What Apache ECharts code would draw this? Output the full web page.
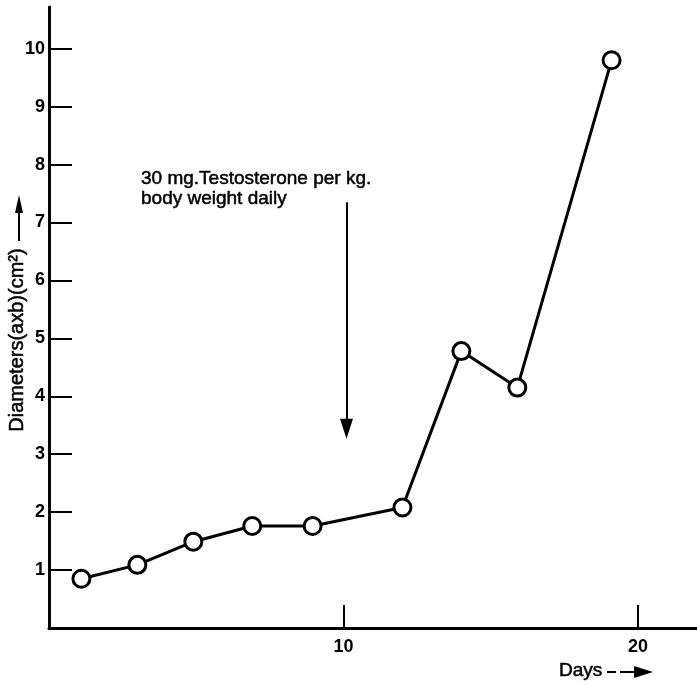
<!DOCTYPE html>
<html>
<head>
<meta charset="utf-8">
<script src="https://cdn.jsdelivr.net/npm/echarts@6/dist/echarts.min.js"></script>
<style>
html, body { margin: 0; padding: 0; background: #fff; }
#chart { width: 697px; height: 685px; }
</style>
</head>
<body>
<div id="chart"></div>
<script>
// values
const days = [1.1, 3, 4.9, 6.9, 8.95, 12, 14, 15.9, 19.1]
const diameters = [0.85, 1.09, 1.49, 1.76, 1.76, 2.08, 4.78, 4.15, 9.8]
const xTicks = [10, 20]
const yTicks = [1, 2, 3, 4, 5, 6, 7, 8, 9, 10]
const doseArrow = [[10.1, 7.35], [10.1, 3.44]]
const doseNote = '30 mg.Testosterone per kg.\nbody weight daily'
const yName = 'Diameters(axb)(cm²)'
const xName = 'Days'

const font = '"Liberation Sans", Arial, sans-serif'
const ink = { fill: '#000', stroke: '#000', lineWidth: 0.5 }
const chart = echarts.init(document.getElementById('chart'))

const options = {
  animation: false,
  backgroundColor: '#fff',
  grid: { left: 49, right: 0, top: 7, bottom: 57 },
  xAxis: {
    type: 'value',
    min: 0,
    max: 22,
    splitLine: { show: false },
    axisLine: { lineStyle: { color: '#000', width: 3 } },
    axisTick: {
      inside: true,
      length: 23,
      customValues: xTicks,
      lineStyle: { color: '#000', width: 2 }
    },
    axisLabel: {
      customValues: xTicks,
      color: '#000',
      fontFamily: font,
      fontSize: 18,
      fontWeight: 'bold',
      margin: 10
    }
  },
  yAxis: {
    type: 'value',
    min: 0,
    max: 10.72,
    splitLine: { show: false },
    axisLine: { show: true, lineStyle: { color: '#000', width: 3 } },
    axisTick: {
      show: true,
      inside: true,
      length: 23,
      customValues: yTicks,
      lineStyle: { color: '#000', width: 2 }
    },
    axisLabel: {
      customValues: yTicks,
      color: '#000',
      fontFamily: font,
      fontSize: 18,
      fontWeight: 'bold',
      margin: 4
    }
  },
  series: [
    {
      type: 'line',
      data: days.map((d, i) => [d, diameters[i]]),
      symbol: 'circle',
      symbolSize: 17,
      lineStyle: { color: '#000', width: 3 },
      itemStyle: { color: '#fff', borderColor: '#000', borderWidth: 3 },
      silent: true,
      z: 3,
      markLine: {
        silent: true,
        symbol: 'none',
        label: { show: false },
        lineStyle: { color: '#000', width: 2, type: 'solid' },
        data: [[{ coord: doseArrow[0] }, { coord: doseArrow[1] }]]
      }
    },
    {
      // head of the dose arrow
      type: 'scatter',
      data: [doseArrow[1]],
      symbol: 'triangle',
      symbolRotate: 180,
      symbolSize: [13, 20],
      itemStyle: { color: '#000', opacity: 1 },
      silent: true,
      z: 2
    }
  ],
  graphic: [
    {
      type: 'text',
      x: 141,
      y: 169,
      style: Object.assign({ text: doseNote, font: '19px ' + font, lineHeight: 20 }, ink)
    },
    {
      type: 'text',
      x: 17,
      y: 340,
      rotation: Math.PI / 2,
      style: Object.assign({ text: yName, font: '20px ' + font, textAlign: 'center', textVerticalAlign: 'middle' }, ink)
    },
    { type: 'line', shape: { x1: 19, y1: 241, x2: 19, y2: 210 }, style: { stroke: '#000', lineWidth: 2 } },
    { type: 'polygon', shape: { points: [[19, 195], [15, 213], [23, 213]] }, style: { fill: '#000' } },
    {
      type: 'text',
      x: 559,
      y: 671,
      style: Object.assign({ text: xName, font: '19px ' + font, textVerticalAlign: 'middle' }, ink)
    },
    { type: 'line', shape: { x1: 607, y1: 672, x2: 616, y2: 672 }, style: { stroke: '#000', lineWidth: 2 } },
    { type: 'line', shape: { x1: 620, y1: 672, x2: 636, y2: 672 }, style: { stroke: '#000', lineWidth: 2 } },
    { type: 'polygon', shape: { points: [[653, 672], [634, 666], [634, 678]] }, style: { fill: '#000' } }
  ]
}

chart.setOption(options)
window.addEventListener('resize', () => chart.resize())
</script>
</body>
</html>
